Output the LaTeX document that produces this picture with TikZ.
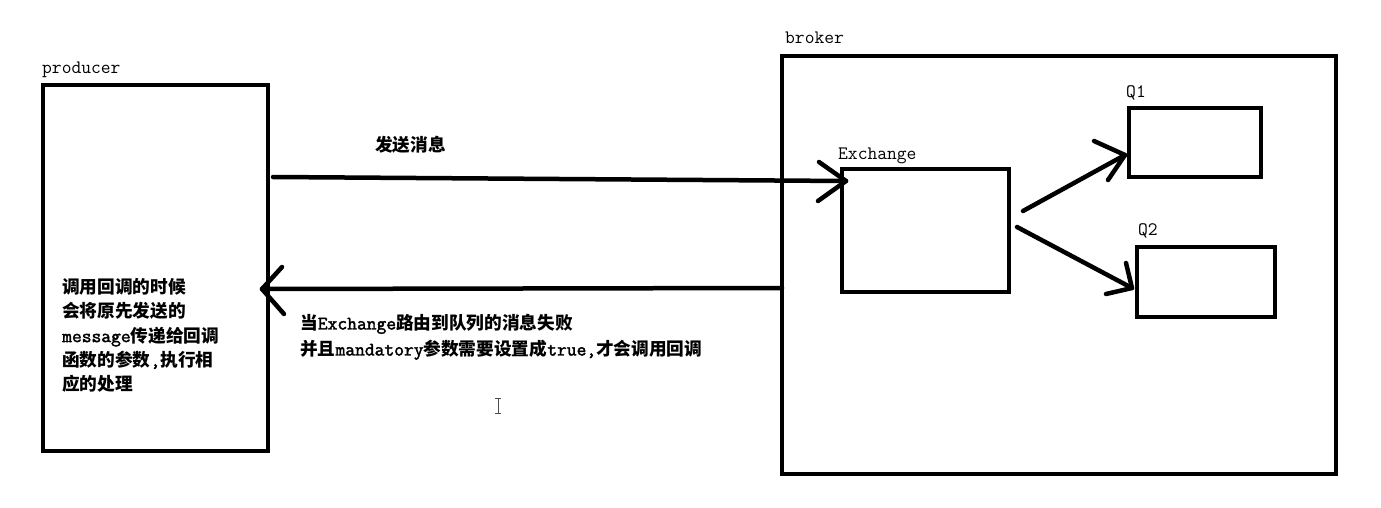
\documentclass[tikz,border=0pt]{standalone}
\usepackage{fontspec}
\setmainfont{Latin Modern Mono}[AutoFakeBold=2]
\newfontfamily\cjkf{Noto Sans CJK SC}[Scale=0.93]
\newcommand{\C}[1]{{\cjkf\bfseries #1}}
\begin{document}
\begin{tikzpicture}[x=1pt,y=-1pt,
  box/.style={draw,line width=4.5pt,inner sep=0pt,outer sep=0pt},
  conn/.style={line width=4.5pt,line cap=round},
  lbl/.style={anchor=base west,inner sep=0pt,font=\fontsize{19}{19}\selectfont},
  body/.style={anchor=west,inner sep=0pt,align=left}]
\useasboundingbox[fill=white] (0,0) rectangle (1381,508);

% boxes
\node[box,minimum width=225pt,minimum height=366pt] (producer) at (155.5,268) {};
\node[box,minimum width=554pt,minimum height=418pt] (broker) at (1059,265) {};
\node[box,minimum width=167pt,minimum height=123pt] (exchange) at (925.5,230.5) {};
\node[box,minimum width=132pt,minimum height=69pt] (q1) at (1195,142.5) {};
\node[box,minimum width=138pt,minimum height=70pt] (q2) at (1206,282) {};

% labels
\node[lbl] (lproducer) at (42,74) {producer};
\node[lbl] (lbroker) at (785,44) {broker};
\node[lbl] (lexchange) at (838,160) {Exchange};
\node[lbl] (lq1) at (1126,98) {Q1};
\node[lbl] (lq2) at (1138,235) {Q2};

% send arrow
\coordinate (s1) at ([xshift=5pt,yshift=91pt]producer.east);
\coordinate (e1) at ([xshift=4pt,yshift=49.5pt]exchange.west);
\draw[conn] (s1) -- (e1);
\draw[conn] (e1) -- ++(-27,-19) (e1) -- ++(-28,20);

% return arrow
\coordinate (s2) at ([yshift=-23pt]broker.west);
\coordinate (e2) at ([xshift=-6pt,yshift=-21pt]producer.east);
\draw[conn] (s2) -- (e2);
\draw[conn] (e2) -- ++(20,-22) (e2) -- ++(22,25);

% exchange -> q1
\coordinate (s3) at ([xshift=14pt,yshift=19.5pt]exchange.east);
\coordinate (e3) at ([xshift=-4pt,yshift=-12.5pt]q1.west);
\draw[conn] (s3) -- (e3);
\draw[conn] (e3) -- ++(-31,-14) (e3) -- ++(-17,25);

% exchange -> q2
\coordinate (s4) at ([xshift=8pt,yshift=3.5pt]exchange.east);
\coordinate (e4) at ([xshift=-5pt,yshift=-6pt]q2.west);
\draw[conn] (s4) -- (e4);
\draw[conn] (e4) -- ++(-6,-25) (e4) -- ++(-26,6);

% texts
\node[body,font=\fontsize{19}{24.2}\selectfont\bfseries] (tsend) at (375,145) {\C{发送消息}};
\node[body,font=\fontsize{19}{24.2}\selectfont\bfseries] (tprod) at (62,335.5)
  {\C{调用回调的时候}\\ \C{会将原先发送的}\\ message\C{传递给回调}\\ \C{函数的参数},\C{执行相}\\ \C{应的处理}};
\node[body,font=\fontsize{19}{26}\selectfont\bfseries] (tret) at (300,337)
  {\C{当}Exchange\C{路由到队列的消息失败}\\ \C{并且}mandatory\C{参数需要设置成}true,\C{才会调用回调}};

% text cursor
\draw[line width=1pt,black!70] (498,398) -- (498,413) (495,398) -- (501,398) (495,413) -- (501,413);
\end{tikzpicture}
\end{document}
